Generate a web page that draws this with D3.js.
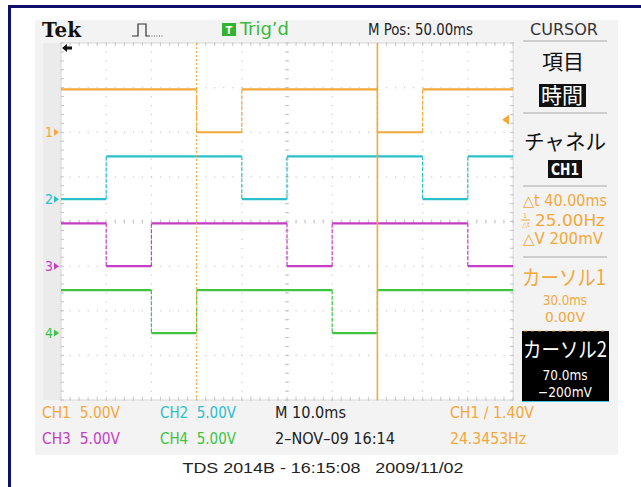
<!DOCTYPE html>
<html>
<head>
<meta charset="utf-8">
<script src="https://cdn.jsdelivr.net/npm/d3@7"></script>
<style>
  body { margin: 0; background: #fff; }
  text { white-space: pre; }
</style>
</head>
<body>
<div id="scope"></div>
<script>
// channel setup
var channelNames = ["CH1", "CH2", "CH3", "CH4"];
var channelColors = ["#f2a83a", "#2bbfc9", "#c53cc5", "#3ec43e"];
var channelOffsetDiv = [2, 0.5, -1, -2.5];
var voltsPerDiv = [5, 5, 5, 5];

// [time ms, volts] : level holds until the next step
var ch1Steps = [[0, 4.8], [30, 0], [40, 4.8], [70, 0], [80, 4.8]];
var ch2Steps = [[0, 0], [10, 4.8], [40, 0], [50, 4.8], [80, 0], [90, 4.8]];
var ch3Steps = [[0, 4.8], [10, 0], [20, 4.8], [50, 0], [60, 4.8], [90, 0]];
var ch4Steps = [[0, 4.8], [20, 0], [30, 4.8], [60, 0], [70, 4.8]];
var allSteps = [ch1Steps, ch2Steps, ch3Steps, ch4Steps];

var timeDomain = [0, 100];          // ms across 10 divisions
var divDomain = [-4, 4];            // 8 vertical divisions
var cursorTimes = [30, 70];
var triggerLevel = 1.40;            // volts on CH1

var settingsRow1 = ["CH1  5.00V", "CH2  5.00V", "M 10.0ms", "CH1 \u2215 1.40V"];
var settingsRow2 = ["CH3  5.00V", "CH4  5.00V", "2\u2013NOV\u201309 16:14", "24.3453Hz"];

var W = 641, H = 487;
var plot = {left: 61, right: 513, top: 43, bottom: 400};
var narrow = "'Liberation Sans Narrow', 'DejaVu Sans Condensed', 'Liberation Sans', sans-serif";
var cjk = "'Noto Sans CJK JP', sans-serif";

var svg = d3.select("#scope").append("svg")
    .attr("width", W).attr("height", H);

// outer frame
svg.append("rect").attr("x", 0).attr("y", 0).attr("width", W).attr("height", H).attr("fill", "#fff");
svg.append("rect").attr("x", 8).attr("y", 5).attr("width", W - 8).attr("height", 3).attr("fill", "#10106b");
svg.append("rect").attr("x", 8).attr("y", 5).attr("width", 3).attr("height", H - 5).attr("fill", "#10106b");

// screen background
svg.append("rect").attr("x", 35).attr("y", 20).attr("width", 583).attr("height", 435).attr("fill", "#f3f3f4");
svg.append("rect").attr("x", 43).attr("y", plot.top).attr("width", plot.left - 43).attr("height", plot.bottom - plot.top).attr("fill", "#ebebec");
svg.append("rect").attr("x", plot.left).attr("y", plot.top)
    .attr("width", plot.right - plot.left).attr("height", plot.bottom - plot.top).attr("fill", "#fff");

var x = d3.scaleLinear().domain(timeDomain).range([plot.left, plot.right]);
var yDiv = d3.scaleLinear().domain(divDomain).range([plot.bottom, plot.top]);

function yVolt(ch, v) {
    return yDiv(channelOffsetDiv[ch] + v / voltsPerDiv[ch]);
}

// graticule
var grid = svg.append("g");
var xDivs = d3.range(0, 101, 10);
var yDivs = d3.range(-4, 5, 1);
var xMinor = d3.range(0, 100.01, 2);
var yMinor = d3.range(-4, 4.01, 0.2);

grid.selectAll(".vgrid").data(xDivs).enter().append("g").each(function(t) {
    var g = d3.select(this);
    yMinor.forEach(function(d) {
        g.append("rect").attr("x", x(t) - 0.5).attr("y", yDiv(d) - 0.5)
            .attr("width", 1.2).attr("height", 1.2).attr("fill", "#c9c9c9");
    });
});
grid.selectAll(".hgrid").data(yDivs).enter().append("g").each(function(d) {
    var g = d3.select(this);
    xMinor.forEach(function(t) {
        g.append("rect").attr("x", x(t) - 0.5).attr("y", yDiv(d) - 0.5)
            .attr("width", 1.2).attr("height", 1.2).attr("fill", "#c9c9c9");
    });
});

// center cross ticks
xMinor.forEach(function(t) {
    grid.append("line").attr("x1", x(t)).attr("x2", x(t))
        .attr("y1", yDiv(0) - 2).attr("y2", yDiv(0) + 2).attr("stroke", "#c4c4c4");
    grid.append("line").attr("x1", x(t)).attr("x2", x(t))
        .attr("y1", plot.top).attr("y2", plot.top + 3).attr("stroke", "#c4c4c4");
    grid.append("line").attr("x1", x(t)).attr("x2", x(t))
        .attr("y1", plot.bottom - 3).attr("y2", plot.bottom).attr("stroke", "#c4c4c4");
});
yMinor.forEach(function(d) {
    grid.append("line").attr("y1", yDiv(d)).attr("y2", yDiv(d))
        .attr("x1", x(50) - 2).attr("x2", x(50) + 2).attr("stroke", "#c4c4c4");
    grid.append("line").attr("y1", yDiv(d)).attr("y2", yDiv(d))
        .attr("x1", plot.left).attr("x2", plot.left + 3).attr("stroke", "#c4c4c4");
    grid.append("line").attr("y1", yDiv(d)).attr("y2", yDiv(d))
        .attr("x1", plot.right - 3).attr("x2", plot.right).attr("stroke", "#c4c4c4");
});
grid.append("rect").attr("x", plot.left).attr("y", plot.top)
    .attr("width", plot.right - plot.left).attr("height", plot.bottom - plot.top)
    .attr("fill", "none").attr("stroke", "#d0d0d0").attr("stroke-width", 0.8);

// traces
var traces = svg.append("g");
allSteps.forEach(function(steps, ch) {
    var col = channelColors[ch];
    steps.forEach(function(s, i) {
        var tEnd = i < steps.length - 1 ? steps[i + 1][0] : timeDomain[1];
        traces.append("line")
            .attr("x1", x(s[0])).attr("x2", x(tEnd))
            .attr("y1", yVolt(ch, s[1])).attr("y2", yVolt(ch, s[1]))
            .attr("stroke", col).attr("stroke-width", 2.2);
        if (i > 0) {
            traces.append("line")
                .attr("x1", x(s[0])).attr("x2", x(s[0]))
                .attr("y1", yVolt(ch, steps[i - 1][1])).attr("y2", yVolt(ch, s[1]))
                .attr("stroke", col).attr("stroke-width", 1.2)
                .attr("stroke-dasharray", "4,1.5");
        }
    });
    // ground marker
    var gy = yVolt(ch, 0);
    svg.append("text").attr("x", 53).attr("y", gy + 5)
        .attr("text-anchor", "end").attr("font-family", narrow)
        .attr("font-size", 14).attr("fill", col).text(String(ch + 1));
    svg.append("path").attr("d", "M54," + (gy - 3.5) + "L59," + gy + "L54," + (gy + 3.5) + "Z")
        .attr("fill", col);
});

// cursors
svg.append("line").attr("x1", x(cursorTimes[0])).attr("x2", x(cursorTimes[0]))
    .attr("y1", plot.top).attr("y2", plot.bottom)
    .attr("stroke", "#f2a83a").attr("stroke-width", 1).attr("stroke-dasharray", "2,2");
svg.append("line").attr("x1", x(cursorTimes[1])).attr("x2", x(cursorTimes[1]))
    .attr("y1", plot.top).attr("y2", plot.bottom)
    .attr("stroke", "#f2a83a").attr("stroke-width", 1.6);

// trigger level marker
var ty = yVolt(0, triggerLevel);
svg.append("path").attr("d", "M502," + ty + "L509," + (ty - 5) + "L509," + (ty + 5) + "Z")
    .attr("fill", "#f2a83a");
// trigger position arrow
svg.append("path").attr("d", "M62,48 L67,44 L67,46.5 L72,46.5 L72,49.5 L67,49.5 L67,52 Z").attr("fill", "#111");

function txt(xp, yp, s, size, fill, opts) {
    opts = opts || {};
    var t = svg.append("text").attr("x", xp).attr("y", yp)
        .attr("font-family", opts.family || narrow)
        .attr("font-size", size).attr("fill", fill)
        .attr("text-anchor", opts.anchor || "start")
        .attr("font-weight", opts.weight || "normal")
        .text(s);
    if (opts.len) t.attr("textLength", opts.len).attr("lengthAdjust", "spacingAndGlyphs");
    return t;
}

// header
txt(42, 37, "Tek", 21, "#111", {family: "'DejaVu Serif', serif", weight: "bold", len: 39});
svg.append("path").attr("d", "M132,36 H138 V24 H146 V36 H149")
    .attr("fill", "none").attr("stroke", "#333").attr("stroke-width", 1.2);
svg.append("path").attr("d", "M149,36 H163").attr("stroke", "#555")
    .attr("stroke-width", 1.2).attr("stroke-dasharray", "1,1.5");
svg.append("rect").attr("x", 222).attr("y", 23).attr("width", 14).attr("height", 13).attr("fill", "#2fb52f");
txt(229, 34, "T", 11, "#fff", {anchor: "middle", weight: "bold"});
txt(240, 35, "Trig\u2019d", 17, "#3cb83c", {len: 49});
txt(368, 35, "M Pos: 50.00ms", 16, "#222", {len: 105});
txt(564, 35, "CURSOR", 16, "#333", {anchor: "middle", len: 68});

// right menu
function divider(yp) {
    svg.append("line").attr("x1", 523).attr("x2", 607).attr("y1", yp).attr("y2", yp)
        .attr("stroke", "#a9a9a9").attr("stroke-width", 1);
}
divider(41); divider(113); divider(186); divider(257);

txt(563, 69, "\u9805\u76ee", 21, "#111", {family: cjk, anchor: "middle"});
svg.append("rect").attr("x", 539).attr("y", 84).attr("width", 47).attr("height", 23).attr("fill", "#111");
txt(562, 103, "\u6642\u9593", 21, "#fff", {family: cjk, anchor: "middle"});

txt(565, 149, "\u30c1\u30e3\u30cd\u30eb", 21, "#111", {family: cjk, anchor: "middle", len: 82});
svg.append("rect").attr("x", 548).attr("y", 160).attr("width", 34).attr("height", 18).attr("fill", "#111");
txt(565, 175, "CH1", 16, "#fff", {anchor: "middle", weight: "bold", len: 28});

var orange = "#f2a83a";
txt(523, 206, "\u25b3t 40.00ms", 15, orange, {len: 84});
txt(525, 218, "1", 7, orange, {anchor: "middle"});
svg.append("line").attr("x1", 521).attr("x2", 530).attr("y1", 220).attr("y2", 220).attr("stroke", orange);
txt(526, 227, "\u25b3t", 7, orange, {anchor: "middle"});
txt(535, 226, "25.00Hz", 15, orange, {len: 70});
txt(523, 244, "\u25b3V 200mV", 15, orange, {len: 80});

txt(564, 285, "\u30ab\u30fc\u30bd\u30eb1", 21, orange, {family: cjk, anchor: "middle", len: 84});
txt(565, 305, "30.0ms", 14.5, orange, {anchor: "middle", len: 44});
txt(565, 322, "0.00V", 14.5, orange, {anchor: "middle", len: 40});

svg.append("rect").attr("x", 522).attr("y", 331).attr("width", 87).attr("height", 70).attr("fill", "#000");
svg.append("line").attr("x1", 524).attr("x2", 607).attr("y1", 331).attr("y2", 331)
    .attr("stroke", orange).attr("stroke-width", 1.2).attr("stroke-dasharray", "3,4");
svg.append("line").attr("x1", 522).attr("x2", 609).attr("y1", 401.5).attr("y2", 401.5)
    .attr("stroke", "#45c6d8").attr("stroke-width", 1);
txt(565, 357, "\u30ab\u30fc\u30bd\u30eb2", 21, "#fff", {family: cjk, anchor: "middle", len: 84});
txt(565, 380, "70.0ms", 14, "#fff", {anchor: "middle", len: 45});
txt(565, 397, "\u2212200mV", 14, "#fff", {anchor: "middle", len: 54});

// bottom settings
var rowX = [42, 160, 275, 450];
var rowLens = [78, 76, 71, 84];
var rowLens2 = [78, 76, 120, 76];
var row1Colors = [channelColors[0], channelColors[1], "#222", orange];
var row2Colors = [channelColors[2], channelColors[3], "#222", orange];
settingsRow1.forEach(function(s, i) {
    txt(rowX[i], 418, s, 16, row1Colors[i], {len: rowLens[i]});
});
settingsRow2.forEach(function(s, i) {
    txt(rowX[i], 444, s, 16, row2Colors[i], {len: rowLens2[i]});
});

// caption
txt(323, 473, "TDS 2014B - 16:15:08   2009/11/02", 15, "#222",
    {family: "'Liberation Sans', Arial, sans-serif", anchor: "middle", len: 281});
</script>
</body>
</html>
